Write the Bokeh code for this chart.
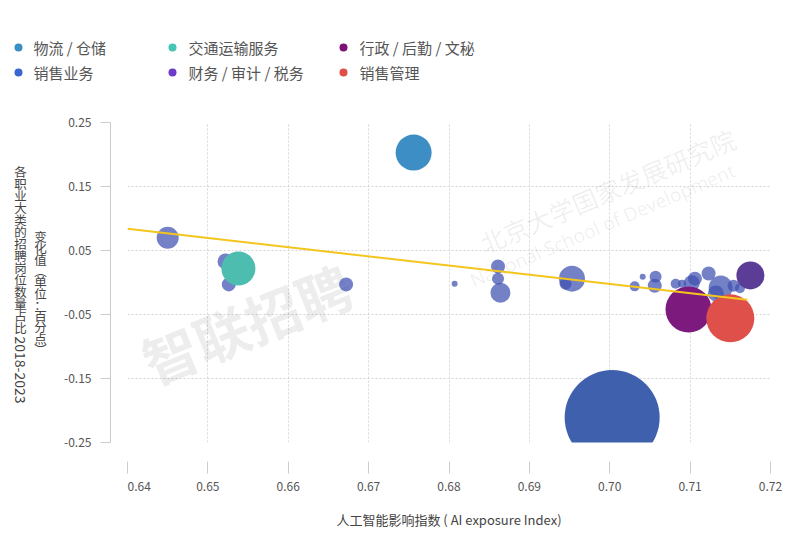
from bokeh.plotting import figure
from bokeh.models import ColumnDataSource, NumeralTickFormatter, Span
from bokeh.layouts import column, row
from bokeh.core.properties import value
from bokeh.embed import file_html
from bokeh.resources import INLINE

# ---------------- data ----------------
cat_names = ["物流 / 仓储", "交通运输服务", "行政 / 后勤 / 文秘",
             "销售业务", "财务 / 审计 / 税务", "销售管理"]
legend_colors = ["#3a8fc4", "#46c4b4", "#7d1378", "#3a66d0", "#6e3cc8", "#e04e48"]

# highlighted occupation groups (AI exposure index, change in share)
cat_x = [0.6756, 0.6538, 0.7098, 0.7003, 0.7175, 0.7150]
cat_y = [0.203, 0.022, -0.042, -0.211, 0.011, -0.056]
cat_size = [36, 34, 46, 95, 28, 48]
cat_colors = ["#3c8ec4", "#4dbdb0", "#7d1a7d", "#3f60ad", "#5b3d98", "#e0504a"]

# other occupation groups
other_x = [0.6450, 0.6522, 0.6526, 0.6672, 0.6807, 0.6861, 0.6861, 0.6864,
           0.6953, 0.6945, 0.7031, 0.7041, 0.7057, 0.7056, 0.7082, 0.7090,
           0.7106, 0.7123, 0.7102, 0.7138, 0.7132, 0.7154, 0.7162]
other_y = [0.070, 0.033, -0.003, -0.003, -0.002, 0.025, 0.006, -0.016,
           0.006, -0.002, -0.006, 0.009, 0.009, -0.005, -0.002, -0.002,
           0.006, 0.014, -0.001, -0.008, -0.017, -0.005, -0.009]
other_size = [22, 16, 14, 14, 6, 14, 12, 20,
              26, 12, 10, 6, 12, 14, 10, 8,
              14, 14, 16, 24, 16, 12, 10]

trend_x = [0.64, 0.7171]
trend_y = [0.0840, -0.027]

x_ticks = [0.64, 0.65, 0.66, 0.67, 0.68, 0.69, 0.70, 0.71, 0.72]
y_ticks = [-0.25, -0.15, -0.05, 0.05, 0.15, 0.25]
y_tick_labels = ["-0.25", "-0.15", "-0.05", "0.05", "0.15", "0.25"]

x_title = "人工智能影响指数 ( AI exposure Index)"
y_title1 = ["各", "职", "业", "大", "类", "的", "招", "聘", "岗", "位", "数", "量", "占", "比"]
y_title1_tail = "2018-2023"
y_title2 = ["变", "化", "值", "︵", "单", "位", "：", "百", "分", "点", "︶"]

FONT = "Noto Sans CJK SC"
W, H = 800, 559
TOP_H = 100      # legend strip height
X0, X1, Y0, Y1 = 0.64, 0.72, -0.25, 0.25
FL, FR, FT, FB = 127, 770, 122, 442  # plot frame pixel box in the page


def px2x(px):
    return X0 + (px - FL) * (X1 - X0) / (FR - FL)


def px2y(py):
    return Y1 - (py - FT) * (Y1 - Y0) / (FB - FT)


def bare(fig):
    fig.grid.visible = False
    fig.outline_line_color = None
    fig.border_fill_color = "white"
    fig.background_fill_color = "white"


# ---------------- legend strip ----------------
leg = figure(width=W, height=TOP_H, x_range=(0, W), y_range=(TOP_H, 0),
             output_backend="svg", toolbar_location=None,
             x_axis_location=None, y_axis_location=None, min_border=0)
leg.frame_align = False
bare(leg)
dot_x = [18, 172, 343]
txt_x = [33, 188, 359]
row_y = [47, 72]
lcol = [0, 1, 2, 0, 1, 2]
lrow = [0, 0, 0, 1, 1, 1]
leg_src = ColumnDataSource(dict(
    dx=[dot_x[c] for c in lcol], tx=[txt_x[c] for c in lcol],
    y=[row_y[r] for r in lrow], name=cat_names, color=legend_colors))
leg.scatter("dx", "y", size=8, source=leg_src, fill_color="color", line_color=None)
leg.text("tx", "y", text="name", source=leg_src, text_font=value(FONT),
         text_font_size="15px", text_color="#555555", text_baseline="middle",
         text_align="left")

# ---------------- left strip: y title + y axis ----------------
left = figure(width=FL, height=H - TOP_H, x_range=(0, FL), y_range=(px2y(H), px2y(TOP_H)),
              output_backend="svg", toolbar_location=None,
              x_axis_location=None, y_axis_location=None, min_border=0)
left.frame_align = False
bare(left)

left.text([20] * len(y_title1), [px2y(171 + 12 * i) for i in range(len(y_title1))],
          text=y_title1, text_font=value(FONT), text_font_size="12.5px",
          text_color="#444444", text_align="center", text_baseline="middle")
left.text([20], [px2y(336)], text=[y_title1_tail], angle=-90, angle_units="deg",
          text_font=value(FONT), text_font_size="14px", text_color="#444444",
          text_align="left", text_baseline="middle")
left.text([40] * len(y_title2), [px2y(236 + 11.3 * i) for i in range(len(y_title2))],
          text=y_title2, text_font=value(FONT), text_font_size="12.5px",
          text_color="#444444", text_align="center", text_baseline="middle")

# y axis: line, ticks and tick labels
left.segment(x0=[110], y0=[Y0], x1=[110], y1=[Y1], line_color="#cccccc", line_width=1)
left.segment(x0=[100] * len(y_ticks), y0=y_ticks, x1=[110] * len(y_ticks), y1=y_ticks,
             line_color="#cccccc", line_width=1)
left.text([91] * len(y_ticks), y_ticks, text=y_tick_labels, text_font=value(FONT),
          text_font_size="12px", text_color="#555555", text_align="right",
          text_baseline="middle")

# ---------------- main scatter ----------------
p = figure(width=W - FL, height=H - TOP_H, x_range=(X0, X1), y_range=(Y0, Y1),
           output_backend="svg", toolbar_location=None, y_axis_location=None,
           min_border_left=0, min_border_right=W - FR,
           min_border_top=FT - TOP_H, min_border_bottom=H - FB)
p.frame_align = False
p.outline_line_color = None
p.background_fill_color = "white"
p.border_fill_color = "white"

for g, t in ((p.xgrid, x_ticks), (p.ygrid, y_ticks)):
    g.ticker = t
    g.grid_line_color = "#d6d6d6"
    g.grid_line_dash = "2 2"
    g.grid_line_width = 1

xa = p.xaxis[0]
xa.ticker = x_ticks
xa.formatter = NumeralTickFormatter(format="0.00")
xa.axis_line_color = None
xa.major_tick_line_color = "#cccccc"
xa.major_tick_in = -19
xa.major_tick_out = 31
xa.minor_tick_line_color = None
xa.major_label_standoff = 8
xa.major_label_text_font = FONT
xa.major_label_text_font_size = "12px"
xa.major_label_text_color = "#555555"
xa.axis_label = x_title
xa.axis_label_text_font = FONT
xa.axis_label_text_font_style = "normal"
xa.axis_label_text_font_size = "13px"
xa.axis_label_text_color = "#444444"
xa.axis_label_standoff = 16

# offset x axis line
p.add_layout(Span(location=px2y(461), dimension="width", line_color="#cccccc", line_width=1))

# watermarks
p.text([px2x(246)], [px2y(322)], text=["智联招聘"], angle=22, angle_units="deg",
       text_font=value(FONT), text_font_size="55px", text_font_style="bold",
       text_color="#000000", text_alpha=0.07, text_align="center", text_baseline="middle")
p.text([px2x(607)], [px2y(190)], text=["北京大学国家发展研究院"], angle=23, angle_units="deg",
       text_font=value(FONT), text_font_size="25px", text_color="#000000", text_alpha=0.07,
       text_align="center", text_baseline="middle")
p.text([px2x(602)], [px2y(225)], text=["National School of Development"], angle=23,
       angle_units="deg", text_font=value("Open Sans"), text_font_size="19px",
       text_color="#000000", text_alpha=0.07, text_align="center", text_baseline="middle")

# bubbles
src_o = ColumnDataSource(dict(x=other_x, y=other_y, s=other_size))
p.scatter("x", "y", size="s", source=src_o, fill_color="#3f50b0", fill_alpha=0.72,
          line_color=None)

order = [0, 1, 3, 4, 2, 5]
src_c = ColumnDataSource(dict(x=[cat_x[i] for i in order], y=[cat_y[i] for i in order],
                              s=[cat_size[i] for i in order],
                              c=[cat_colors[i] for i in order]))
p.scatter("x", "y", size="s", source=src_c, fill_color="c", fill_alpha=1.0, line_color=None)

# trend line
p.line(trend_x, trend_y, line_color="#f4c51c", line_width=2)

layout = column(leg, row(left, p, spacing=0), spacing=0)
open("out.html", "w").write(file_html(layout, INLINE))
